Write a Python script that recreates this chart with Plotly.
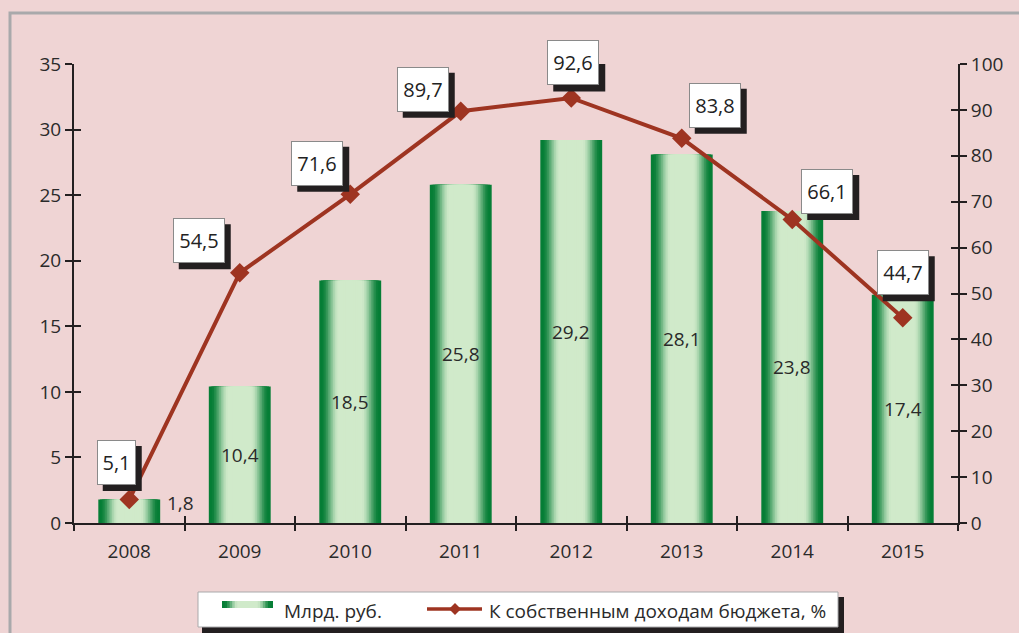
import plotly.graph_objects as go

years = ["2008", "2009", "2010", "2011", "2012", "2013", "2014", "2015"]
bln_rub = [1.8, 10.4, 18.5, 25.8, 29.2, 28.1, 23.8, 17.4]
share_pct = [5.1, 54.5, 71.6, 89.7, 92.6, 83.8, 66.1, 44.7]
bar_labels = ["1,8", "10,4", "18,5", "25,8", "29,2", "28,1", "23,8", "17,4"]
line_labels = ["5,1", "54,5", "71,6", "89,7", "92,6", "83,8", "66,1", "44,7"]
bar_name = "Млрд. руб."
line_name = "К собственным доходам бюджета, %"

# label box offsets in pixels (style only)
lbl_dx = [-13, -41, -33, -38, 2, 33, 35, 0]
lbl_dy = [37, 32, 31, 22, 35, 33, 28, 45]

W, H = 1019, 633
L, R, T, B = 74, 61, 64, 110
pw, ph = W - L - R, H - T - B


def px2paper(x, y):
    return (x - L) / pw, (H - B - y) / ph


BG = "#EFD4D4"
LINE_C = "#9E3421"
INK = "#231f20"
TXT = "#2a2a2a"
FONT = "Open Sans, sans-serif"
dark = (6, 126, 54)
light = (208, 234, 202)


def grad_color(k, n):
    t = k / (n - 1)
    s = min(max((t - 0.04) / 0.6, 0.0), 1.0)
    e = s * s * (3 - 2 * s)
    c = tuple(int(dark[i] + (light[i] - dark[i]) * e) for i in range(3))
    return "rgb(%d,%d,%d)" % c


fig = go.Figure()

# gradient bars built from overlaid, progressively narrower layers
NL = 18
BW = 0.56
for k in range(NL):
    fig.add_trace(go.Bar(
        x=years, y=bln_rub, width=BW * (1 - k / NL),
        marker=dict(color=grad_color(k, NL), line=dict(width=0)),
        name=bar_name, showlegend=False, hoverinfo="skip",
    ))

fig.add_trace(go.Scatter(
    x=years, y=share_pct, yaxis="y2", mode="lines+markers",
    name=line_name, showlegend=False,
    line=dict(color=LINE_C, width=4),
    marker=dict(symbol="diamond", size=15, color=LINE_C),
))

annotations = []
shapes = []
for i, (v, lab) in enumerate(zip(bln_rub, bar_labels)):
    if v < 5:
        annotations.append(dict(x=i, y=v, text=lab, showarrow=False, xshift=51,
                                yshift=-4, font=dict(size=19, color=TXT, family=FONT)))
    else:
        annotations.append(dict(x=i, y=v / 2, text=lab, showarrow=False,
                                font=dict(size=19, color=TXT, family=FONT)))

BOX_H = 43
for i, (v, lab) in enumerate(zip(share_pct, line_labels)):
    w = 37 if len(lab) == 3 else 50
    fw, fh = w + 2, BOX_H + 2
    # shadow
    shapes.append(dict(type="rect", xref="x", yref="y2", xsizemode="pixel",
                       ysizemode="pixel", xanchor=i, yanchor=v,
                       x0=lbl_dx[i] - fw / 2 + 6, x1=lbl_dx[i] + fw / 2 + 6,
                       y0=lbl_dy[i] - fh / 2 - 6, y1=lbl_dy[i] + fh / 2 - 6,
                       fillcolor=INK, line=dict(width=0), layer="above"))
    annotations.append(dict(x=i, y=v, xref="x", yref="y2", text=lab, showarrow=False,
                            width=w, height=BOX_H, borderpad=0, borderwidth=1,
                            xshift=lbl_dx[i], yshift=lbl_dy[i], bgcolor="white",
                            bordercolor="#8a8a8a",
                            font=dict(size=20, color="#222222", family=FONT)))


def prect(xa, ya, xb, yb, **kw):
    p0 = px2paper(xa, ya)
    p1 = px2paper(xb, yb)
    d = dict(type="rect", xref="paper", yref="paper", x0=p0[0], y0=p1[1],
             x1=p1[0], y1=p0[1])
    d.update(kw)
    return d


shapes += [
    prect(10, 13, 1040, 660, line=dict(color="#A9A9AB", width=3),
          fillcolor="rgba(0,0,0,0)", layer="below"),
    # legend shadow + box
    prect(202, 597, 844, 660, line=dict(width=0), fillcolor=INK, layer="above"),
    prect(198, 592, 838, 627, line=dict(color="#A9A9AB", width=1),
          fillcolor="white", layer="above"),
]

# legend: bar swatch (gradient)
sx0, sx1, sy0, sy1 = 222, 273, 601, 608
NS = 10
for k in range(NS):
    half = (sx1 - sx0) / 2 * (1 - k / NS)
    cx = (sx0 + sx1) / 2
    shapes.append(prect(cx - half, sy0, cx + half, sy1, line=dict(width=0),
                        fillcolor=grad_color(k, NS), layer="above"))
# legend: line + diamond
ly = 609
a = px2paper(427, ly)
b = px2paper(482, ly)
shapes.append(dict(type="line", xref="paper", yref="paper", x0=a[0], y0=a[1],
                   x1=b[0], y1=b[1], line=dict(color=LINE_C, width=3.5), layer="above"))
dc = 455
pts = [px2paper(dc, ly - 6), px2paper(dc + 6, ly), px2paper(dc, ly + 6), px2paper(dc - 6, ly)]
path = "M %f %f L %f %f L %f %f L %f %f Z" % tuple(c for p in pts for c in p)
shapes.append(dict(type="path", xref="paper", yref="paper", path=path,
                   fillcolor=LINE_C, line=dict(width=0), layer="above"))

t1 = px2paper(282, 611)
t2 = px2paper(487, 611)
annotations.append(dict(xref="paper", yref="paper", x=t1[0], y=t1[1], xanchor="left",
                        yanchor="middle", text=bar_name, showarrow=False,
                        font=dict(size=19, color=TXT, family=FONT)))
annotations.append(dict(xref="paper", yref="paper", x=t2[0], y=t2[1], xanchor="left",
                        yanchor="middle", text=line_name, showarrow=False,
                        font=dict(size=19, color=TXT, family=FONT)))

axis_font = dict(size=19, color=TXT, family=FONT)
tick_common = dict(ticklen=7, tickwidth=2, tickcolor=INK, showgrid=False, zeroline=False)
fig.update_layout(
    width=W, height=H,
    margin=dict(l=L, r=R, t=T, b=B),
    paper_bgcolor=BG, plot_bgcolor=BG,
    barmode="overlay", showlegend=False,
    font=dict(family=FONT, color=TXT),
    xaxis=dict(type="category", range=[-0.5, 7.5], showline=True, linecolor=INK,
               linewidth=2, ticks="", tickfont=axis_font, showgrid=False,
               zeroline=False, ticklabelstandoff=10),
    xaxis2=dict(range=[-0.5, 7.5], overlaying="x", anchor="y", tick0=-0.5, dtick=1,
                ticks="outside", showticklabels=False, showline=False, side="bottom",
                **tick_common),
    xaxis3=dict(range=[-0.5, 7.5], overlaying="x", anchor="y", tick0=-0.5, dtick=1,
                ticks="inside", showticklabels=False, showline=False, side="bottom",
                **tick_common),
    yaxis=dict(range=[0, 35], dtick=5, showline=True, linecolor=INK, linewidth=2,
               ticks="outside", tickfont=axis_font, **tick_common),
    yaxis3=dict(range=[0, 35], dtick=5, overlaying="y", anchor="x", side="left",
                ticks="inside", showticklabels=False, showline=False, **tick_common),
    yaxis2=dict(range=[0, 100], dtick=10, overlaying="y", side="right", anchor="x",
                showline=True, linecolor=INK, linewidth=2, ticks="outside",
                tickfont=axis_font, **tick_common),
    yaxis4=dict(range=[0, 100], dtick=10, overlaying="y", side="right", anchor="x",
                ticks="inside", showticklabels=False, showline=False, **tick_common),
    annotations=annotations,
    shapes=shapes,
)

# empty helper traces so the crossing tick axes are drawn
fig.add_trace(go.Scatter(x=[None], y=[None], xaxis="x2", yaxis="y3", showlegend=False,
                         hoverinfo="skip"))
fig.add_trace(go.Scatter(x=[None], y=[None], xaxis="x3", yaxis="y4", showlegend=False,
                         hoverinfo="skip"))

fig.write_html("out.html", config={"displayModeBar": False},
               post_script="document.body.style.margin='0px';")
